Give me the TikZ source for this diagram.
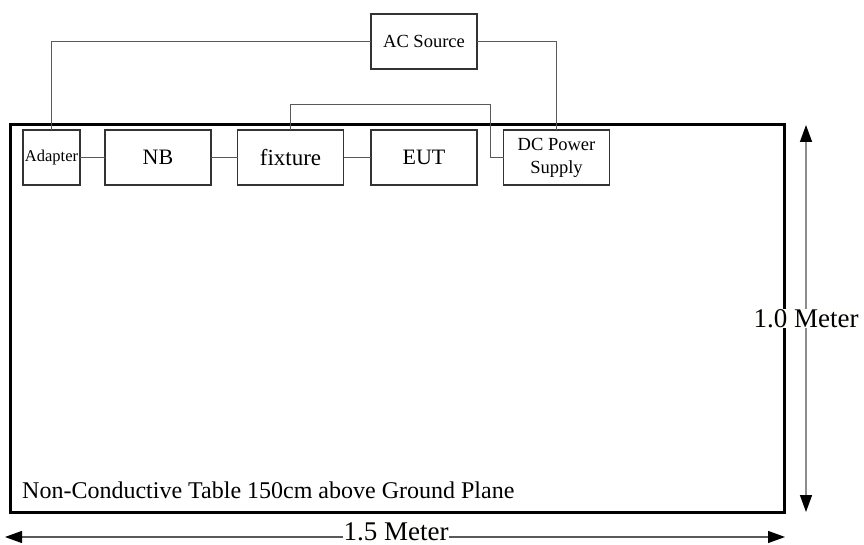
\documentclass[tikz,border=0pt]{standalone}
\usepackage{fontspec}
\setmainfont{Liberation Serif}
\usetikzlibrary{arrows.meta}
\definecolor{paper}{RGB}{255,255,254}
\begin{document}
\begin{tikzpicture}[x=1pt,y=-1pt,
  box/.style={draw=black!80, line width=1.5pt, minimum width=106pt, minimum height=55pt, inner sep=0pt, align=center, outer sep=0pt},
  wire/.style={draw=black!65, line width=1pt},
  dimv/.style={draw=black!45, line width=1.5pt, {Triangle[length=17pt,width=12pt,color=black,fill=black]}-{Triangle[length=17pt,width=12pt,color=black,fill=black]}},
  dimh/.style={draw=black!65, line width=1.2pt, {Triangle[length=17pt,width=12pt,color=black,fill=black]}-{Triangle[length=17pt,width=12pt,color=black,fill=black]}},
  lbl/.style={fill=paper, inner sep=0.5pt, font=\fontsize{27}{30}\selectfont}
]
\useasboundingbox (0,0) rectangle (864,545);
\node[draw=black, line width=3pt, minimum width=774pt, minimum height=387pt, inner sep=0pt, outer sep=0pt, anchor=north west] (table) at (10,125) {};

\node[box, minimum width=57pt, font=\fontsize{16.5}{18}\selectfont] (adapter) at (51.5,157.5) {Adapter};
\node[box, font=\fontsize{22}{24}\selectfont] (nb) at (158,157.5) {NB};
\node[box, font=\fontsize{23}{24}\selectfont] (fixture) at (290.5,157.5) {fixture};
\node[box, font=\fontsize{22}{24}\selectfont] (eut) at (424,157.5) {EUT};
\node[box, font=\fontsize{18.5}{23}\selectfont] (dc) at (556.5,157.5) {DC Power\\Supply};
\node[box, font=\fontsize{18.5}{20}\selectfont] (ac) at (424,41.5) {AC Source};

\coordinate (jog) at (490,105);
\draw[wire] (adapter.north) |- (ac.west);
\draw[wire] (ac.east) -| (dc.north);
\draw[wire] (adapter) -- (nb);
\draw[wire] (nb) -- (fixture);
\draw[wire] (fixture) -- (eut);
\draw[wire] (fixture.north) |- (jog) |- (dc.west);

\node[anchor=base west, inner sep=0pt, font=\fontsize{24}{27}\selectfont] (note) at (22,498) {Non-Conductive Table 150cm above Ground Plane};

\coordinate (vt) at (806,125);
\coordinate (vb) at (806,512);
\draw[dimv] (vt) -- (vb);

\coordinate (hl) at (5,537);
\coordinate (hr) at (785,537);
\draw[dimh] (hl) -- (hr);

\node[lbl, anchor=base] (vlabel) at (806,327) {1.0 Meter};
\node[lbl, anchor=base] (hlabel) at (396,540) {1.5 Meter};
\end{tikzpicture}
\end{document}
